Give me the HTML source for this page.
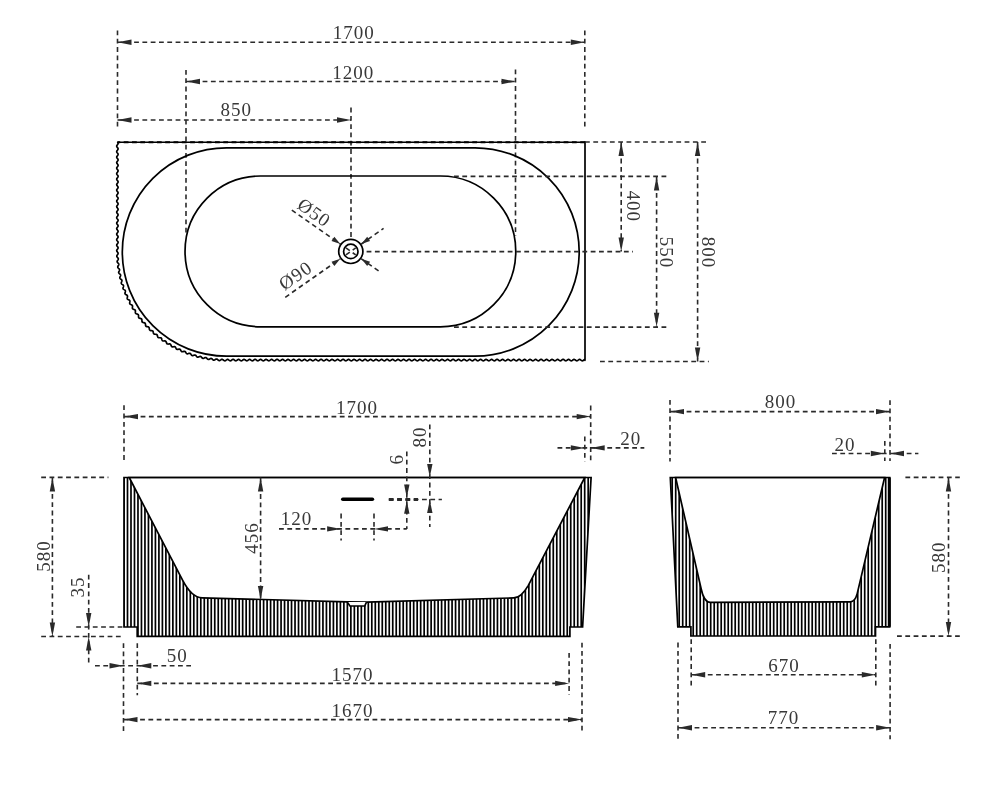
<!DOCTYPE html>
<html><head><meta charset="utf-8"><style>
html,body{margin:0;padding:0;background:#fff;overflow:hidden;}
svg{display:block;will-change:transform;}
text{font-family:"Liberation Serif", serif;fill:#383838;font-size:19px;letter-spacing:1.0px;}

</style></head><body>
<svg width="1000" height="786" viewBox="0 0 1000 786">
<rect width="1000" height="786" fill="#fff"/>
<line x1="117.5" y1="30.5" x2="117.5" y2="128.7" stroke="#2a2a2a" stroke-width="1.6" stroke-dasharray="4.8 3.5" stroke-dashoffset="0"/>
<line x1="584.8" y1="30.5" x2="584.8" y2="126.5" stroke="#2a2a2a" stroke-width="1.6" stroke-dasharray="4.8 3.5" stroke-dashoffset="0"/>
<line x1="186" y1="70" x2="186" y2="236" stroke="#2a2a2a" stroke-width="1.6" stroke-dasharray="4.8 3.5" stroke-dashoffset="0"/>
<line x1="515.5" y1="69.5" x2="515.5" y2="236" stroke="#2a2a2a" stroke-width="1.6" stroke-dasharray="4.8 3.5" stroke-dashoffset="0"/>
<line x1="351" y1="107.6" x2="351" y2="237" stroke="#2a2a2a" stroke-width="1.6" stroke-dasharray="4.8 3.5" stroke-dashoffset="0"/>
<line x1="117.5" y1="42.2" x2="584.8" y2="42.2" stroke="#2a2a2a" stroke-width="1.6" stroke-dasharray="4.8 3.5" stroke-dashoffset="0"/>
<path d="M117.5 42.2 L131.5 39.5 L131.5 44.9 Z" fill="#2a2a2a"/>
<path d="M584.8 42.2 L570.8 44.9 L570.8 39.5 Z" fill="#2a2a2a"/>
<line x1="186" y1="81.5" x2="515.5" y2="81.5" stroke="#2a2a2a" stroke-width="1.6" stroke-dasharray="4.8 3.5" stroke-dashoffset="0"/>
<path d="M186 81.5 L200 78.8 L200 84.2 Z" fill="#2a2a2a"/>
<path d="M515.5 81.5 L501.5 84.2 L501.5 78.8 Z" fill="#2a2a2a"/>
<line x1="117.5" y1="120" x2="351" y2="120" stroke="#2a2a2a" stroke-width="1.6" stroke-dasharray="4.8 3.5" stroke-dashoffset="0"/>
<path d="M117.5 120 L131.5 117.3 L131.5 122.7 Z" fill="#2a2a2a"/>
<path d="M351 120 L337 122.7 L337 117.3 Z" fill="#2a2a2a"/>
<text class="t" x="0" y="0" dy="6.4" transform="translate(353.75 32.15)" text-anchor="middle">1700</text>
<text class="t" x="0" y="0" dy="6.4" transform="translate(353.25 72.5)" text-anchor="middle">1200</text>
<text class="t" x="0" y="0" dy="6.4" transform="translate(236.2 109.5)" text-anchor="middle">850</text>
<path d="M117.4 142 L117.71 142.4 L117.95 142.8 L118.09 143.2 L118.08 143.6 L117.93 144 L117.67 144.4 L117.36 144.8 L117.06 145.2 L116.82 145.6 L116.71 146 L116.73 146.4 L116.9 146.8 L117.16 147.2 L117.48 147.6 L117.78 148 L118 148.4 L118.1 148.8 L118.05 149.2 L117.87 149.6 L117.6 150 L117.28 150.4 L116.99 150.8 L116.78 151.2 L116.7 151.6 L116.76 152 L116.96 152.4 L117.24 152.8 L117.56 153.2 L117.84 153.6 L118.04 154 L118.1 154.4 L118.02 154.8 L117.81 155.2 L117.52 155.6 L117.2 156 L116.93 156.4 L116.75 156.8 L116.7 157.2 L116.8 157.6 L117.02 158 L117.32 158.4 L117.64 158.8 L117.9 159.2 L118.07 159.6 L118.09 160 L117.98 160.4 L117.74 160.8 L117.44 161.2 L117.13 161.6 L116.87 162 L116.72 162.4 L116.71 162.8 L116.85 163.2 L117.09 163.6 L117.4 164 L117.71 164.4 L117.95 164.8 L118.09 165.2 L118.08 165.6 L117.93 166 L117.67 166.4 L117.36 166.8 L117.06 167.2 L116.82 167.6 L116.71 168 L116.73 168.4 L116.9 168.8 L117.16 169.2 L117.48 169.6 L117.78 170 L118 170.4 L118.1 170.8 L118.05 171.2 L117.87 171.6 L117.6 172 L117.28 172.4 L116.99 172.8 L116.78 173.2 L116.7 173.6 L116.76 174 L116.96 174.4 L117.24 174.8 L117.56 175.2 L117.84 175.6 L118.04 176 L118.1 176.4 L118.02 176.8 L117.81 177.2 L117.52 177.6 L117.2 178 L116.93 178.4 L116.75 178.8 L116.7 179.2 L116.8 179.6 L117.02 180 L117.32 180.4 L117.64 180.8 L117.9 181.2 L118.07 181.6 L118.09 182 L117.98 182.4 L117.74 182.8 L117.44 183.2 L117.13 183.6 L116.87 184 L116.72 184.4 L116.71 184.8 L116.85 185.2 L117.09 185.6 L117.4 186 L117.71 186.4 L117.95 186.8 L118.09 187.2 L118.08 187.6 L117.93 188 L117.67 188.4 L117.36 188.8 L117.06 189.2 L116.82 189.6 L116.71 190 L116.73 190.4 L116.9 190.8 L117.16 191.2 L117.48 191.6 L117.78 192 L118 192.4 L118.1 192.8 L118.05 193.2 L117.87 193.6 L117.6 194 L117.28 194.4 L116.99 194.8 L116.78 195.2 L116.7 195.6 L116.76 196 L116.96 196.4 L117.24 196.8 L117.56 197.2 L117.84 197.6 L118.04 198 L118.1 198.4 L118.02 198.8 L117.81 199.2 L117.52 199.6 L117.2 200 L116.93 200.4 L116.75 200.8 L116.7 201.2 L116.8 201.6 L117.02 202 L117.32 202.4 L117.64 202.8 L117.9 203.2 L118.07 203.6 L118.09 204 L117.98 204.4 L117.74 204.8 L117.44 205.2 L117.13 205.6 L116.87 206 L116.72 206.4 L116.71 206.8 L116.85 207.2 L117.09 207.6 L117.4 208 L117.71 208.4 L117.95 208.8 L118.09 209.2 L118.08 209.6 L117.93 210 L117.67 210.4 L117.36 210.8 L117.06 211.2 L116.82 211.6 L116.71 212 L116.73 212.4 L116.9 212.8 L117.16 213.2 L117.48 213.6 L117.78 214 L118 214.4 L118.1 214.8 L118.05 215.2 L117.87 215.6 L117.6 216 L117.28 216.4 L116.99 216.8 L116.78 217.2 L116.7 217.6 L116.76 218 L116.96 218.4 L117.24 218.8 L117.56 219.2 L117.84 219.6 L118.04 220 L118.1 220.4 L118.02 220.8 L117.81 221.2 L117.52 221.6 L117.2 222 L116.93 222.4 L116.75 222.8 L116.7 223.2 L116.8 223.6 L117.02 224 L117.32 224.4 L117.64 224.8 L117.9 225.2 L118.07 225.6 L118.09 226 L117.98 226.4 L117.74 226.8 L117.44 227.2 L117.13 227.6 L116.87 228 L116.72 228.4 L116.71 228.8 L116.85 229.2 L117.09 229.6 L117.4 230 L117.71 230.4 L117.95 230.8 L118.09 231.2 L118.08 231.6 L117.93 232 L117.67 232.4 L117.36 232.8 L117.06 233.2 L116.82 233.6 L116.71 234 L116.73 234.4 L116.9 234.8 L117.16 235.2 L117.48 235.6 L117.78 236 L118 236.4 L118.1 236.8 L118.05 237.2 L117.87 237.6 L117.6 238 L117.28 238.4 L116.99 238.8 L116.78 239.2 L116.7 239.6 L116.76 240 L116.96 240.4 L117.24 240.8 L117.56 241.2 L117.84 241.6 L118.04 242 L118.1 242.4 L118.02 242.8 L117.81 243.2 L117.52 243.6 L117.2 244 L116.93 244.4 L116.75 244.8 L116.7 245.2 L116.8 245.6 L117.02 246 L117.32 246.4 L117.64 246.8 L117.9 247.2 L118.07 247.6 L118.09 248 L117.98 248.4 L117.74 248.8 L117.44 249.2 L117.13 249.6 L116.87 250 L116.72 250.4 L116.71 250.8 L116.85 251.2 L117.09 251.6 L117.4 252 L117.71 252.4 L117.96 252.8 L118.09 253.19 L118.09 253.59 L117.95 253.99 L117.7 254.39 L117.4 254.8 L117.1 255.21 L116.88 255.62 L116.78 256.02 L116.82 256.43 L117.01 256.82 L117.29 257.21 L117.62 257.59 L117.94 257.98 L118.19 258.36 L118.31 258.75 L118.29 259.15 L118.14 259.56 L117.89 259.98 L117.61 260.4 L117.35 260.82 L117.17 261.24 L117.13 261.65 L117.23 262.04 L117.46 262.43 L117.78 262.8 L118.14 263.16 L118.46 263.53 L118.7 263.9 L118.81 264.29 L118.77 264.7 L118.61 265.12 L118.37 265.55 L118.11 265.99 L117.89 266.42 L117.77 266.84 L117.78 267.25 L117.93 267.63 L118.21 268 L118.56 268.35 L118.94 268.7 L119.26 269.05 L119.49 269.41 L119.58 269.8 L119.53 270.21 L119.37 270.65 L119.14 271.09 L118.9 271.54 L118.72 271.98 L118.65 272.41 L118.72 272.8 L118.93 273.17 L119.25 273.52 L119.63 273.85 L120.01 274.18 L120.34 274.52 L120.55 274.88 L120.63 275.27 L120.57 275.69 L120.41 276.13 L120.19 276.59 L119.99 277.05 L119.86 277.5 L119.84 277.92 L119.96 278.3 L120.22 278.65 L120.58 278.97 L120.98 279.28 L121.37 279.59 L121.69 279.92 L121.89 280.28 L121.95 280.67 L121.88 281.1 L121.73 281.56 L121.53 282.03 L121.36 282.5 L121.28 282.94 L121.32 283.35 L121.49 283.72 L121.8 284.05 L122.19 284.35 L122.61 284.63 L123 284.93 L123.31 285.25 L123.49 285.6 L123.54 286.01 L123.47 286.45 L123.32 286.92 L123.15 287.4 L123.02 287.87 L122.99 288.31 L123.08 288.71 L123.31 289.05 L123.66 289.35 L124.07 289.63 L124.51 289.89 L124.9 290.17 L125.19 290.48 L125.36 290.84 L125.4 291.26 L125.33 291.71 L125.19 292.19 L125.05 292.68 L124.97 293.15 L124.98 293.58 L125.13 293.96 L125.41 294.27 L125.79 294.55 L126.23 294.8 L126.67 295.04 L127.06 295.31 L127.34 295.62 L127.49 295.98 L127.52 296.41 L127.45 296.87 L127.34 297.37 L127.23 297.86 L127.19 298.32 L127.26 298.74 L127.46 299.09 L127.78 299.38 L128.19 299.62 L128.65 299.84 L129.1 300.07 L129.47 300.32 L129.74 300.63 L129.88 301.01 L129.9 301.45 L129.84 301.93 L129.75 302.43 L129.68 302.92 L129.68 303.37 L129.8 303.76 L130.05 304.09 L130.41 304.35 L130.86 304.56 L131.33 304.75 L131.77 304.96 L132.14 305.21 L132.39 305.53 L132.52 305.91 L132.54 306.36 L132.49 306.85 L132.42 307.36 L132.39 307.84 L132.44 308.28 L132.61 308.65 L132.91 308.94 L133.31 309.17 L133.77 309.35 L134.25 309.52 L134.69 309.71 L135.04 309.96 L135.28 310.28 L135.4 310.68 L135.42 311.14 L135.39 311.64 L135.35 312.15 L135.36 312.62 L135.46 313.04 L135.68 313.38 L136.02 313.63 L136.45 313.82 L136.93 313.98 L137.41 314.12 L137.84 314.31 L138.18 314.56 L138.41 314.88 L138.52 315.29 L138.55 315.77 L138.53 316.27 L138.53 316.78 L138.58 317.24 L138.73 317.63 L139 317.93 L139.37 318.15 L139.83 318.31 L140.32 318.43 L140.8 318.56 L141.22 318.74 L141.55 318.99 L141.76 319.32 L141.87 319.75 L141.91 320.23 L141.92 320.74 L141.95 321.23 L142.04 321.68 L142.24 322.04 L142.55 322.3 L142.96 322.48 L143.43 322.6 L143.93 322.7 L144.41 322.81 L144.82 322.99 L145.13 323.24 L145.33 323.59 L145.44 324.03 L145.49 324.52 L145.53 325.03 L145.6 325.51 L145.74 325.93 L145.98 326.25 L146.33 326.48 L146.76 326.62 L147.26 326.7 L147.76 326.77 L148.23 326.88 L148.62 327.05 L148.92 327.31 L149.12 327.68 L149.23 328.12 L149.3 328.62 L149.37 329.12 L149.47 329.59 L149.66 329.98 L149.94 330.26 L150.32 330.45 L150.78 330.55 L151.28 330.6 L151.79 330.65 L152.25 330.74 L152.63 330.91 L152.91 331.19 L153.11 331.57 L153.23 332.02 L153.32 332.52 L153.41 333.02 L153.56 333.46 L153.79 333.81 L154.11 334.05 L154.52 334.19 L155 334.25 L155.5 334.27 L156 334.3 L156.45 334.39 L156.82 334.57 L157.09 334.86 L157.29 335.25 L157.42 335.72 L157.53 336.21 L157.66 336.69 L157.85 337.11 L158.11 337.42 L158.47 337.62 L158.91 337.71 L159.4 337.73 L159.91 337.73 L160.4 337.74 L160.83 337.83 L161.19 338.02 L161.46 338.32 L161.65 338.72 L161.8 339.19 L161.94 339.68 L162.1 340.14 L162.33 340.52 L162.63 340.79 L163.01 340.94 L163.47 340.99 L163.97 340.98 L164.48 340.94 L164.96 340.95 L165.38 341.04 L165.72 341.24 L165.99 341.55 L166.19 341.97 L166.36 342.44 L166.52 342.92 L166.72 343.35 L166.98 343.7 L167.32 343.92 L167.73 344.02 L168.2 344.03 L168.7 343.98 L169.2 343.92 L169.67 343.92 L170.08 344.01 L170.42 344.22 L170.68 344.56 L170.89 344.98 L171.08 345.45 L171.28 345.91 L171.51 346.32 L171.8 346.62 L172.16 346.79 L172.6 346.84 L173.08 346.81 L173.58 346.72 L174.07 346.65 L174.53 346.65 L174.92 346.75 L175.25 346.98 L175.52 347.32 L175.75 347.75 L175.96 348.21 L176.18 348.66 L176.45 349.02 L176.77 349.28 L177.16 349.4 L177.6 349.4 L178.09 349.32 L178.59 349.21 L179.07 349.13 L179.51 349.13 L179.9 349.24 L180.22 349.48 L180.5 349.84 L180.74 350.27 L180.97 350.72 L181.23 351.14 L181.52 351.46 L181.87 351.67 L182.28 351.74 L182.74 351.69 L183.22 351.58 L183.71 351.44 L184.18 351.35 L184.61 351.35 L184.99 351.48 L185.32 351.73 L185.6 352.1 L185.86 352.53 L186.12 352.96 L186.4 353.35 L186.72 353.63 L187.1 353.78 L187.52 353.8 L187.98 353.71 L188.46 353.56 L188.94 353.4 L189.4 353.31 L189.82 353.31 L190.19 353.45 L190.52 353.72 L190.81 354.1 L191.09 354.52 L191.38 354.94 L191.68 355.28 L192.03 355.52 L192.42 355.61 L192.86 355.58 L193.32 355.45 L193.79 355.26 L194.26 355.09 L194.71 355 L195.12 355.02 L195.49 355.17 L195.82 355.45 L196.13 355.83 L196.43 356.24 L196.73 356.63 L197.07 356.94 L197.44 357.12 L197.84 357.16 L198.28 357.07 L198.74 356.9 L199.2 356.69 L199.66 356.51 L200.09 356.42 L200.49 356.45 L200.86 356.62 L201.2 356.91 L201.53 357.29 L201.85 357.68 L202.18 358.04 L202.53 358.3 L202.92 358.43 L203.33 358.41 L203.77 358.28 L204.22 358.07 L204.67 357.84 L205.12 357.65 L205.54 357.56 L205.93 357.61 L206.3 357.79 L206.65 358.1 L207 358.46 L207.34 358.84 L207.69 359.16 L208.06 359.37 L208.46 359.44 L208.88 359.38 L209.31 359.19 L209.75 358.95 L210.19 358.7 L210.62 358.51 L211.03 358.44 L211.43 358.5 L211.8 358.7 L212.16 359 L212.52 359.36 L212.89 359.71 L213.26 359.99 L213.64 360.15 L214.05 360.16 L214.46 360.04 L214.89 359.81 L215.32 359.54 L215.74 359.28 L216.16 359.09 L216.57 359.03 L216.96 359.11 L217.34 359.32 L217.72 359.62 L218.09 359.97 L218.48 360.28 L218.86 360.52 L219.26 360.62 L219.67 360.58 L220.08 360.41 L220.49 360.14 L220.91 359.84 L221.32 359.58 L221.72 359.4 L222.12 359.35 L222.51 359.44 L222.91 359.66 L223.3 359.96 L223.69 360.28 L224.09 360.56 L224.49 360.75 L224.89 360.8 L225.3 360.7 L225.7 360.48 L226.1 360.18 L226.5 359.86 L226.9 359.6 L227.3 359.43 L227.7 359.41 L228.1 359.52 L228.5 359.76 L228.9 360.06 L229.3 360.37 L229.7 360.63 L230.1 360.78 L230.5 360.79 L230.9 360.65 L231.3 360.41 L231.7 360.1 L232.1 359.79 L232.5 359.55 L232.9 359.41 L233.3 359.42 L233.7 359.57 L234.1 359.83 L234.5 360.14 L234.9 360.44 L235.3 360.68 L235.7 360.79 L236.1 360.77 L236.5 360.6 L236.9 360.34 L237.3 360.02 L237.7 359.72 L238.1 359.5 L238.5 359.4 L238.9 359.45 L239.3 359.63 L239.7 359.9 L240.1 360.22 L240.5 360.51 L240.9 360.72 L241.3 360.8 L241.7 360.74 L242.1 360.54 L242.5 360.26 L242.9 359.94 L243.3 359.66 L243.7 359.46 L244.1 359.4 L244.5 359.48 L244.9 359.69 L245.3 359.98 L245.7 360.3 L246.1 360.57 L246.5 360.75 L246.9 360.8 L247.3 360.7 L247.7 360.48 L248.1 360.18 L248.5 359.86 L248.9 359.6 L249.3 359.43 L249.7 359.41 L250.1 359.52 L250.5 359.76 L250.9 360.06 L251.3 360.37 L251.7 360.63 L252.1 360.78 L252.5 360.79 L252.9 360.65 L253.3 360.41 L253.7 360.1 L254.1 359.79 L254.5 359.55 L254.9 359.41 L255.3 359.42 L255.7 359.57 L256.1 359.83 L256.5 360.14 L256.9 360.44 L257.3 360.68 L257.7 360.79 L258.1 360.77 L258.5 360.6 L258.9 360.34 L259.3 360.02 L259.7 359.72 L260.1 359.5 L260.5 359.4 L260.9 359.45 L261.3 359.63 L261.7 359.9 L262.1 360.22 L262.5 360.51 L262.9 360.72 L263.3 360.8 L263.7 360.74 L264.1 360.54 L264.5 360.26 L264.9 359.94 L265.3 359.66 L265.7 359.46 L266.1 359.4 L266.5 359.48 L266.9 359.69 L267.3 359.98 L267.7 360.3 L268.1 360.57 L268.5 360.75 L268.9 360.8 L269.3 360.7 L269.7 360.48 L270.1 360.18 L270.5 359.86 L270.9 359.6 L271.3 359.43 L271.7 359.41 L272.1 359.52 L272.5 359.76 L272.9 360.06 L273.3 360.37 L273.7 360.63 L274.1 360.78 L274.5 360.79 L274.9 360.65 L275.3 360.41 L275.7 360.1 L276.1 359.79 L276.5 359.55 L276.9 359.41 L277.3 359.42 L277.7 359.57 L278.1 359.83 L278.5 360.14 L278.9 360.44 L279.3 360.68 L279.7 360.79 L280.1 360.77 L280.5 360.6 L280.9 360.34 L281.3 360.02 L281.7 359.72 L282.1 359.5 L282.5 359.4 L282.9 359.45 L283.3 359.63 L283.7 359.9 L284.1 360.22 L284.5 360.51 L284.9 360.72 L285.3 360.8 L285.7 360.74 L286.1 360.54 L286.5 360.26 L286.9 359.94 L287.3 359.66 L287.7 359.46 L288.1 359.4 L288.5 359.48 L288.9 359.69 L289.3 359.98 L289.7 360.3 L290.1 360.57 L290.5 360.75 L290.9 360.8 L291.3 360.7 L291.7 360.48 L292.1 360.18 L292.5 359.86 L292.9 359.6 L293.3 359.43 L293.7 359.41 L294.1 359.52 L294.5 359.76 L294.9 360.06 L295.3 360.37 L295.7 360.63 L296.1 360.78 L296.5 360.79 L296.9 360.65 L297.3 360.41 L297.7 360.1 L298.1 359.79 L298.5 359.55 L298.9 359.41 L299.3 359.42 L299.7 359.57 L300.1 359.83 L300.5 360.14 L300.9 360.44 L301.3 360.68 L301.7 360.79 L302.1 360.77 L302.5 360.6 L302.9 360.34 L303.3 360.02 L303.7 359.72 L304.1 359.5 L304.5 359.4 L304.9 359.45 L305.3 359.63 L305.7 359.9 L306.1 360.22 L306.5 360.51 L306.9 360.72 L307.3 360.8 L307.7 360.74 L308.1 360.54 L308.5 360.26 L308.9 359.94 L309.3 359.66 L309.7 359.46 L310.1 359.4 L310.5 359.48 L310.9 359.69 L311.3 359.98 L311.7 360.3 L312.1 360.57 L312.5 360.75 L312.9 360.8 L313.3 360.7 L313.7 360.48 L314.1 360.18 L314.5 359.86 L314.9 359.6 L315.3 359.43 L315.7 359.41 L316.1 359.52 L316.5 359.76 L316.9 360.06 L317.3 360.37 L317.7 360.63 L318.1 360.78 L318.5 360.79 L318.9 360.65 L319.3 360.41 L319.7 360.1 L320.1 359.79 L320.5 359.55 L320.9 359.41 L321.3 359.42 L321.7 359.57 L322.1 359.83 L322.5 360.14 L322.9 360.44 L323.3 360.68 L323.7 360.79 L324.1 360.77 L324.5 360.6 L324.9 360.34 L325.3 360.02 L325.7 359.72 L326.1 359.5 L326.5 359.4 L326.9 359.45 L327.3 359.63 L327.7 359.9 L328.1 360.22 L328.5 360.51 L328.9 360.72 L329.3 360.8 L329.7 360.74 L330.1 360.54 L330.5 360.26 L330.9 359.94 L331.3 359.66 L331.7 359.46 L332.1 359.4 L332.5 359.48 L332.9 359.69 L333.3 359.98 L333.7 360.3 L334.1 360.57 L334.5 360.75 L334.9 360.8 L335.3 360.7 L335.7 360.48 L336.1 360.18 L336.5 359.86 L336.9 359.6 L337.3 359.43 L337.7 359.41 L338.1 359.52 L338.5 359.76 L338.9 360.06 L339.3 360.37 L339.7 360.63 L340.1 360.78 L340.5 360.79 L340.9 360.65 L341.3 360.41 L341.7 360.1 L342.1 359.79 L342.5 359.55 L342.9 359.41 L343.3 359.42 L343.7 359.57 L344.1 359.83 L344.5 360.14 L344.9 360.44 L345.3 360.68 L345.7 360.79 L346.1 360.77 L346.5 360.6 L346.9 360.34 L347.3 360.02 L347.7 359.72 L348.1 359.5 L348.5 359.4 L348.9 359.45 L349.3 359.63 L349.7 359.9 L350.1 360.22 L350.5 360.51 L350.9 360.72 L351.3 360.8 L351.7 360.74 L352.1 360.54 L352.5 360.26 L352.9 359.94 L353.3 359.66 L353.7 359.46 L354.1 359.4 L354.5 359.48 L354.9 359.69 L355.3 359.98 L355.7 360.3 L356.1 360.57 L356.5 360.75 L356.9 360.8 L357.3 360.7 L357.7 360.48 L358.1 360.18 L358.5 359.86 L358.9 359.6 L359.3 359.43 L359.7 359.41 L360.1 359.52 L360.5 359.76 L360.9 360.06 L361.3 360.37 L361.7 360.63 L362.1 360.78 L362.5 360.79 L362.9 360.65 L363.3 360.41 L363.7 360.1 L364.1 359.79 L364.5 359.55 L364.9 359.41 L365.3 359.42 L365.7 359.57 L366.1 359.83 L366.5 360.14 L366.9 360.44 L367.3 360.68 L367.7 360.79 L368.1 360.77 L368.5 360.6 L368.9 360.34 L369.3 360.02 L369.7 359.72 L370.1 359.5 L370.5 359.4 L370.9 359.45 L371.3 359.63 L371.7 359.9 L372.1 360.22 L372.5 360.51 L372.9 360.72 L373.3 360.8 L373.7 360.74 L374.1 360.54 L374.5 360.26 L374.9 359.94 L375.3 359.66 L375.7 359.46 L376.1 359.4 L376.5 359.48 L376.9 359.69 L377.3 359.98 L377.7 360.3 L378.1 360.57 L378.5 360.75 L378.9 360.8 L379.3 360.7 L379.7 360.48 L380.1 360.18 L380.5 359.86 L380.9 359.6 L381.3 359.43 L381.7 359.41 L382.1 359.52 L382.5 359.76 L382.9 360.06 L383.3 360.37 L383.7 360.63 L384.1 360.78 L384.5 360.79 L384.9 360.65 L385.3 360.41 L385.7 360.1 L386.1 359.79 L386.5 359.55 L386.9 359.41 L387.3 359.42 L387.7 359.57 L388.1 359.83 L388.5 360.14 L388.9 360.44 L389.3 360.68 L389.7 360.79 L390.1 360.77 L390.5 360.6 L390.9 360.34 L391.3 360.02 L391.7 359.72 L392.1 359.5 L392.5 359.4 L392.9 359.45 L393.3 359.63 L393.7 359.9 L394.1 360.22 L394.5 360.51 L394.9 360.72 L395.3 360.8 L395.7 360.74 L396.1 360.54 L396.5 360.26 L396.9 359.94 L397.3 359.66 L397.7 359.46 L398.1 359.4 L398.5 359.48 L398.9 359.69 L399.3 359.98 L399.7 360.3 L400.1 360.57 L400.5 360.75 L400.9 360.8 L401.3 360.7 L401.7 360.48 L402.1 360.18 L402.5 359.86 L402.9 359.6 L403.3 359.43 L403.7 359.41 L404.1 359.52 L404.5 359.76 L404.9 360.06 L405.3 360.37 L405.7 360.63 L406.1 360.78 L406.5 360.79 L406.9 360.65 L407.3 360.41 L407.7 360.1 L408.1 359.79 L408.5 359.55 L408.9 359.41 L409.3 359.42 L409.7 359.57 L410.1 359.83 L410.5 360.14 L410.9 360.44 L411.3 360.68 L411.7 360.79 L412.1 360.77 L412.5 360.6 L412.9 360.34 L413.3 360.02 L413.7 359.72 L414.1 359.5 L414.5 359.4 L414.9 359.45 L415.3 359.63 L415.7 359.9 L416.1 360.22 L416.5 360.51 L416.9 360.72 L417.3 360.8 L417.7 360.74 L418.1 360.54 L418.5 360.26 L418.9 359.94 L419.3 359.66 L419.7 359.46 L420.1 359.4 L420.5 359.48 L420.9 359.69 L421.3 359.98 L421.7 360.3 L422.1 360.57 L422.5 360.75 L422.9 360.8 L423.3 360.7 L423.7 360.48 L424.1 360.18 L424.5 359.86 L424.9 359.6 L425.3 359.43 L425.7 359.41 L426.1 359.52 L426.5 359.76 L426.9 360.06 L427.3 360.37 L427.7 360.63 L428.1 360.78 L428.5 360.79 L428.9 360.65 L429.3 360.41 L429.7 360.1 L430.1 359.79 L430.5 359.55 L430.9 359.41 L431.3 359.42 L431.7 359.57 L432.1 359.83 L432.5 360.14 L432.9 360.44 L433.3 360.68 L433.7 360.79 L434.1 360.77 L434.5 360.6 L434.9 360.34 L435.3 360.02 L435.7 359.72 L436.1 359.5 L436.5 359.4 L436.9 359.45 L437.3 359.63 L437.7 359.9 L438.1 360.22 L438.5 360.51 L438.9 360.72 L439.3 360.8 L439.7 360.74 L440.1 360.54 L440.5 360.26 L440.9 359.94 L441.3 359.66 L441.7 359.46 L442.1 359.4 L442.5 359.48 L442.9 359.69 L443.3 359.98 L443.7 360.3 L444.1 360.57 L444.5 360.75 L444.9 360.8 L445.3 360.7 L445.7 360.48 L446.1 360.18 L446.5 359.86 L446.9 359.6 L447.3 359.43 L447.7 359.41 L448.1 359.52 L448.5 359.76 L448.9 360.06 L449.3 360.37 L449.7 360.63 L450.1 360.78 L450.5 360.79 L450.9 360.65 L451.3 360.41 L451.7 360.1 L452.1 359.79 L452.5 359.55 L452.9 359.41 L453.3 359.42 L453.7 359.57 L454.1 359.83 L454.5 360.14 L454.9 360.44 L455.3 360.68 L455.7 360.79 L456.1 360.77 L456.5 360.6 L456.9 360.34 L457.3 360.02 L457.7 359.72 L458.1 359.5 L458.5 359.4 L458.9 359.45 L459.3 359.63 L459.7 359.9 L460.1 360.22 L460.5 360.51 L460.9 360.72 L461.3 360.8 L461.7 360.74 L462.1 360.54 L462.5 360.26 L462.9 359.94 L463.3 359.66 L463.7 359.46 L464.1 359.4 L464.5 359.48 L464.9 359.69 L465.3 359.98 L465.7 360.3 L466.1 360.57 L466.5 360.75 L466.9 360.8 L467.3 360.7 L467.7 360.48 L468.1 360.18 L468.5 359.86 L468.9 359.6 L469.3 359.43 L469.7 359.41 L470.1 359.52 L470.5 359.76 L470.9 360.06 L471.3 360.37 L471.7 360.63 L472.1 360.78 L472.5 360.79 L472.9 360.65 L473.3 360.41 L473.7 360.1 L474.1 359.79 L474.5 359.55 L474.9 359.41 L475.3 359.42 L475.7 359.57 L476.1 359.83 L476.5 360.14 L476.9 360.44 L477.3 360.68 L477.7 360.79 L478.1 360.77 L478.5 360.6 L478.9 360.34 L479.3 360.02 L479.7 359.72 L480.1 359.5 L480.5 359.4 L480.9 359.45 L481.3 359.63 L481.7 359.9 L482.1 360.22 L482.5 360.51 L482.9 360.72 L483.3 360.8 L483.7 360.74 L484.1 360.54 L484.5 360.26 L484.9 359.94 L485.3 359.66 L485.7 359.46 L486.1 359.4 L486.5 359.48 L486.9 359.69 L487.3 359.98 L487.7 360.3 L488.1 360.57 L488.5 360.75 L488.9 360.8 L489.3 360.7 L489.7 360.48 L490.1 360.18 L490.5 359.86 L490.9 359.6 L491.3 359.43 L491.7 359.41 L492.1 359.52 L492.5 359.76 L492.9 360.06 L493.3 360.37 L493.7 360.63 L494.1 360.78 L494.5 360.79 L494.9 360.65 L495.3 360.41 L495.7 360.1 L496.1 359.79 L496.5 359.55 L496.9 359.41 L497.3 359.42 L497.7 359.57 L498.1 359.83 L498.5 360.14 L498.9 360.44 L499.3 360.68 L499.7 360.79 L500.1 360.77 L500.5 360.6 L500.9 360.34 L501.3 360.02 L501.7 359.72 L502.1 359.5 L502.5 359.4 L502.9 359.45 L503.3 359.63 L503.7 359.9 L504.1 360.22 L504.5 360.51 L504.9 360.72 L505.3 360.8 L505.7 360.74 L506.1 360.54 L506.5 360.26 L506.9 359.94 L507.3 359.66 L507.7 359.46 L508.1 359.4 L508.5 359.48 L508.9 359.69 L509.3 359.98 L509.7 360.3 L510.1 360.57 L510.5 360.75 L510.9 360.8 L511.3 360.7 L511.7 360.48 L512.1 360.18 L512.5 359.86 L512.9 359.6 L513.3 359.43 L513.7 359.41 L514.1 359.52 L514.5 359.76 L514.9 360.06 L515.3 360.37 L515.7 360.63 L516.1 360.78 L516.5 360.79 L516.9 360.65 L517.3 360.41 L517.7 360.1 L518.1 359.79 L518.5 359.55 L518.9 359.41 L519.3 359.42 L519.7 359.57 L520.1 359.83 L520.5 360.14 L520.9 360.44 L521.3 360.68 L521.7 360.79 L522.1 360.77 L522.5 360.6 L522.9 360.34 L523.3 360.02 L523.7 359.72 L524.1 359.5 L524.5 359.4 L524.9 359.45 L525.3 359.63 L525.7 359.9 L526.1 360.22 L526.5 360.51 L526.9 360.72 L527.3 360.8 L527.7 360.74 L528.1 360.54 L528.5 360.26 L528.9 359.94 L529.3 359.66 L529.7 359.46 L530.1 359.4 L530.5 359.48 L530.9 359.69 L531.3 359.98 L531.7 360.3 L532.1 360.57 L532.5 360.75 L532.9 360.8 L533.3 360.7 L533.7 360.48 L534.1 360.18 L534.5 359.86 L534.9 359.6 L535.3 359.43 L535.7 359.41 L536.1 359.52 L536.5 359.76 L536.9 360.06 L537.3 360.37 L537.7 360.63 L538.1 360.78 L538.5 360.79 L538.9 360.65 L539.3 360.41 L539.7 360.1 L540.1 359.79 L540.5 359.55 L540.9 359.41 L541.3 359.42 L541.7 359.57 L542.1 359.83 L542.5 360.14 L542.9 360.44 L543.3 360.68 L543.7 360.79 L544.1 360.77 L544.5 360.6 L544.9 360.34 L545.3 360.02 L545.7 359.72 L546.1 359.5 L546.5 359.4 L546.9 359.45 L547.3 359.63 L547.7 359.9 L548.1 360.22 L548.5 360.51 L548.9 360.72 L549.3 360.8 L549.7 360.74 L550.1 360.54 L550.5 360.26 L550.9 359.94 L551.3 359.66 L551.7 359.46 L552.1 359.4 L552.5 359.48 L552.9 359.69 L553.3 359.98 L553.7 360.3 L554.1 360.57 L554.5 360.75 L554.9 360.8 L555.3 360.7 L555.7 360.48 L556.1 360.18 L556.5 359.86 L556.9 359.6 L557.3 359.43 L557.7 359.41 L558.1 359.52 L558.5 359.76 L558.9 360.06 L559.3 360.37 L559.7 360.63 L560.1 360.78 L560.5 360.79 L560.9 360.65 L561.3 360.41 L561.7 360.1 L562.1 359.79 L562.5 359.55 L562.9 359.41 L563.3 359.42 L563.7 359.57 L564.1 359.83 L564.5 360.14 L564.9 360.44 L565.3 360.68 L565.7 360.79 L566.1 360.77 L566.5 360.6 L566.9 360.34 L567.3 360.02 L567.7 359.72 L568.1 359.5 L568.5 359.4 L568.9 359.45 L569.3 359.63 L569.7 359.9 L570.1 360.22 L570.5 360.51 L570.9 360.72 L571.3 360.8 L571.7 360.74 L572.1 360.54 L572.5 360.26 L572.9 359.94 L573.3 359.66 L573.7 359.46 L574.1 359.4 L574.5 359.48 L574.9 359.69 L575.3 359.98 L575.7 360.3 L576.1 360.57 L576.5 360.75 L576.9 360.8 L577.3 360.7 L577.7 360.48 L578.1 360.18 L578.5 359.86 L578.9 359.6 L579.3 359.43 L579.7 359.41 L580.1 359.52 L580.5 359.76 L580.9 360.06 L581.3 360.37 L581.7 360.63 L582.1 360.78 L582.5 360.79 L582.9 360.65 L583.3 360.41 L583.7 360.1 L584.1 359.79 L584.5 359.55 L584.9 359.41 L585 360.3 L585 141.4" fill="none" stroke="#000" stroke-width="1.7" stroke-linejoin="round"/>
<line x1="117.4" y1="142.2" x2="585.8" y2="142.2" stroke="#000" stroke-width="1.6"/>
<line x1="117.4" y1="142.2" x2="585.8" y2="142.2" stroke="#000" stroke-width="2" stroke-dasharray="4.8 3.5" stroke-dashoffset="2"/>
<path d="M226.5 147.8 L475 147.8 A104.2 104.2 0 0 1 475 356.2 L226.5 356.2 A104.2 104.2 0 0 1 226.5 147.8 Z" fill="none" stroke="#000" stroke-width="1.7"/>
<path d="M260.4 176 L440.4 176 A75.4 75.4 0 0 1 440.4 326.8 L260.4 326.8 A75.4 75.4 0 0 1 260.4 176 Z" fill="none" stroke="#000" stroke-width="1.7"/>
<line x1="454" y1="176.4" x2="669" y2="176.4" stroke="#2a2a2a" stroke-width="1.6" stroke-dasharray="4.8 3.5" stroke-dashoffset="0"/>
<line x1="454" y1="327.1" x2="669" y2="327.1" stroke="#2a2a2a" stroke-width="1.6" stroke-dasharray="4.8 3.5" stroke-dashoffset="0"/>
<line x1="366.6" y1="251.6" x2="633" y2="251.6" stroke="#2a2a2a" stroke-width="1.6" stroke-dasharray="4.8 3.5" stroke-dashoffset="0"/>
<line x1="585" y1="142" x2="708.8" y2="142" stroke="#2a2a2a" stroke-width="1.6" stroke-dasharray="4.8 3.5" stroke-dashoffset="0"/>
<line x1="600" y1="361.5" x2="708.8" y2="361.5" stroke="#2a2a2a" stroke-width="1.6" stroke-dasharray="4.8 3.5" stroke-dashoffset="0"/>
<line x1="621.2" y1="142" x2="621.2" y2="251.6" stroke="#2a2a2a" stroke-width="1.6" stroke-dasharray="4.8 3.5" stroke-dashoffset="0"/>
<path d="M621.2 142 L623.9 156 L618.5 156 Z" fill="#2a2a2a"/>
<path d="M621.2 251.6 L618.5 237.6 L623.9 237.6 Z" fill="#2a2a2a"/>
<line x1="656.6" y1="176.4" x2="656.6" y2="326.8" stroke="#2a2a2a" stroke-width="1.6" stroke-dasharray="4.8 3.5" stroke-dashoffset="0"/>
<path d="M656.6 176.4 L659.3 190.4 L653.9 190.4 Z" fill="#2a2a2a"/>
<path d="M656.6 326.8 L653.9 312.8 L659.3 312.8 Z" fill="#2a2a2a"/>
<line x1="697.6" y1="142" x2="697.6" y2="361.5" stroke="#2a2a2a" stroke-width="1.6" stroke-dasharray="4.8 3.5" stroke-dashoffset="0"/>
<path d="M697.6 142 L700.3 156 L694.9 156 Z" fill="#2a2a2a"/>
<path d="M697.6 361.5 L694.9 347.5 L700.3 347.5 Z" fill="#2a2a2a"/>
<text class="t" x="0" y="0" dy="6.4" transform="translate(633.66 206.2) rotate(90)" text-anchor="middle">400</text>
<text class="t" x="0" y="0" dy="6.4" transform="translate(666.86 252.56) rotate(90)" text-anchor="middle">550</text>
<text class="t" x="0" y="0" dy="6.4" transform="translate(707.92 252.56) rotate(90)" text-anchor="middle">800</text>
<circle cx="350.8" cy="251.4" r="12.1" fill="#fff" stroke="#000" stroke-width="1.7"/>
<circle cx="350.8" cy="251.4" r="7.2" fill="none" stroke="#000" stroke-width="1.7"/>
<line x1="291.82" y1="210.1" x2="340.56" y2="244.23" stroke="#2a2a2a" stroke-width="1.6" stroke-dasharray="4.8 3.5" stroke-dashoffset="0"/>
<line x1="361.04" y1="258.57" x2="378.65" y2="270.9" stroke="#2a2a2a" stroke-width="1.6" stroke-dasharray="4.8 3.5" stroke-dashoffset="0"/>
<line x1="345.89" y1="247.96" x2="355.71" y2="254.84" stroke="#2a2a2a" stroke-width="1.6" stroke-dasharray="4.8 3.5" stroke-dashoffset="0"/>
<path d="M340.31 244.06 L331.51 240.94 L334.38 236.85 Z" fill="#2a2a2a"/>
<path d="M361.29 258.74 L370.09 261.86 L367.22 265.95 Z" fill="#2a2a2a"/>
<line x1="285.27" y1="297.29" x2="340.56" y2="258.57" stroke="#2a2a2a" stroke-width="1.6" stroke-dasharray="4.8 3.5" stroke-dashoffset="0"/>
<line x1="361.04" y1="244.23" x2="383.57" y2="228.46" stroke="#2a2a2a" stroke-width="1.6" stroke-dasharray="4.8 3.5" stroke-dashoffset="0"/>
<line x1="345.89" y1="254.84" x2="355.71" y2="247.96" stroke="#2a2a2a" stroke-width="1.6" stroke-dasharray="4.8 3.5" stroke-dashoffset="0"/>
<path d="M340.31 258.74 L334.38 265.95 L331.51 261.86 Z" fill="#2a2a2a"/>
<path d="M361.29 244.06 L367.22 236.85 L370.09 240.94 Z" fill="#2a2a2a"/>
<text class="t" x="0" y="0" dy="6.4" transform="translate(314.24 212.58) rotate(35)" text-anchor="middle">Ø50</text>
<text class="t" x="0" y="0" dy="6.4" transform="translate(295.5 275.46) rotate(-35)" text-anchor="middle">Ø90</text>
<line x1="124" y1="405.3" x2="124" y2="461" stroke="#2a2a2a" stroke-width="1.6" stroke-dasharray="4.8 3.5" stroke-dashoffset="0"/>
<line x1="590.7" y1="405.6" x2="590.7" y2="461.6" stroke="#2a2a2a" stroke-width="1.6" stroke-dasharray="4.8 3.5" stroke-dashoffset="0"/>
<line x1="124" y1="416.6" x2="590.7" y2="416.6" stroke="#2a2a2a" stroke-width="1.6" stroke-dasharray="4.8 3.5" stroke-dashoffset="0"/>
<path d="M124 416.6 L138 413.9 L138 419.3 Z" fill="#2a2a2a"/>
<path d="M590.7 416.6 L576.7 419.3 L576.7 413.9 Z" fill="#2a2a2a"/>
<text class="t" x="0" y="0" dy="6.4" transform="translate(357 407.5)" text-anchor="middle">1700</text>
<line x1="584.8" y1="436.4" x2="584.8" y2="461.6" stroke="#2a2a2a" stroke-width="1.6" stroke-dasharray="4.8 3.5" stroke-dashoffset="0"/>
<line x1="557.5" y1="447.9" x2="644.3" y2="447.9" stroke="#2a2a2a" stroke-width="1.6" stroke-dasharray="4.8 3.5" stroke-dashoffset="0"/>
<path d="M584.8 447.9 L570.8 450.6 L570.8 445.2 Z" fill="#2a2a2a"/>
<path d="M590.7 447.9 L604.7 445.2 L604.7 450.6 Z" fill="#2a2a2a"/>
<text class="t" x="0" y="0" dy="6.4" transform="translate(630.81 438.58)" text-anchor="middle">20</text>
<defs><clipPath id="cf"><path d="M124 477.5 L591.1 477.5 L582.6 627 L569.9 627 L569.9 636.3 L137.2 636.3 L137.2 627 L124 627 Z M129.2 477.5 L182.7 580.4 Q191.8 597.8 202.2 597.8 L347.2 601.9 L366.5 602.1 L513.7 597.9 Q521 597.9 528.2 585.6 L584.8 477.5 Z" fill-rule="evenodd" clip-rule="evenodd"/></clipPath></defs>
<g clip-path="url(#cf)" fill="#000"><rect x="116.18" y="470" width="1.7" height="170"/><rect x="119.67" y="470" width="1.7" height="170"/><rect x="123.16" y="470" width="1.7" height="170"/><rect x="126.65" y="470" width="1.7" height="170"/><rect x="130.14" y="470" width="1.7" height="170"/><rect x="133.63" y="470" width="1.7" height="170"/><rect x="137.12" y="470" width="1.7" height="170"/><rect x="140.61" y="470" width="1.7" height="170"/><rect x="144.1" y="470" width="1.7" height="170"/><rect x="147.59" y="470" width="1.7" height="170"/><rect x="151.08" y="470" width="1.7" height="170"/><rect x="154.57" y="470" width="1.7" height="170"/><rect x="158.06" y="470" width="1.7" height="170"/><rect x="161.55" y="470" width="1.7" height="170"/><rect x="165.04" y="470" width="1.7" height="170"/><rect x="168.53" y="470" width="1.7" height="170"/><rect x="172.02" y="470" width="1.7" height="170"/><rect x="175.51" y="470" width="1.7" height="170"/><rect x="179" y="470" width="1.7" height="170"/><rect x="182.49" y="470" width="1.7" height="170"/><rect x="185.98" y="470" width="1.7" height="170"/><rect x="189.47" y="470" width="1.7" height="170"/><rect x="192.96" y="470" width="1.7" height="170"/><rect x="196.45" y="470" width="1.7" height="170"/><rect x="199.94" y="470" width="1.7" height="170"/><rect x="203.43" y="470" width="1.7" height="170"/><rect x="206.92" y="470" width="1.7" height="170"/><rect x="210.41" y="470" width="1.7" height="170"/><rect x="213.9" y="470" width="1.7" height="170"/><rect x="217.39" y="470" width="1.7" height="170"/><rect x="220.88" y="470" width="1.7" height="170"/><rect x="224.37" y="470" width="1.7" height="170"/><rect x="227.86" y="470" width="1.7" height="170"/><rect x="231.35" y="470" width="1.7" height="170"/><rect x="234.84" y="470" width="1.7" height="170"/><rect x="238.33" y="470" width="1.7" height="170"/><rect x="241.82" y="470" width="1.7" height="170"/><rect x="245.31" y="470" width="1.7" height="170"/><rect x="248.8" y="470" width="1.7" height="170"/><rect x="252.29" y="470" width="1.7" height="170"/><rect x="255.78" y="470" width="1.7" height="170"/><rect x="259.27" y="470" width="1.7" height="170"/><rect x="262.76" y="470" width="1.7" height="170"/><rect x="266.25" y="470" width="1.7" height="170"/><rect x="269.74" y="470" width="1.7" height="170"/><rect x="273.23" y="470" width="1.7" height="170"/><rect x="276.72" y="470" width="1.7" height="170"/><rect x="280.21" y="470" width="1.7" height="170"/><rect x="283.7" y="470" width="1.7" height="170"/><rect x="287.19" y="470" width="1.7" height="170"/><rect x="290.68" y="470" width="1.7" height="170"/><rect x="294.17" y="470" width="1.7" height="170"/><rect x="297.66" y="470" width="1.7" height="170"/><rect x="301.15" y="470" width="1.7" height="170"/><rect x="304.64" y="470" width="1.7" height="170"/><rect x="308.13" y="470" width="1.7" height="170"/><rect x="311.62" y="470" width="1.7" height="170"/><rect x="315.11" y="470" width="1.7" height="170"/><rect x="318.6" y="470" width="1.7" height="170"/><rect x="322.09" y="470" width="1.7" height="170"/><rect x="325.58" y="470" width="1.7" height="170"/><rect x="329.07" y="470" width="1.7" height="170"/><rect x="332.56" y="470" width="1.7" height="170"/><rect x="336.05" y="470" width="1.7" height="170"/><rect x="339.54" y="470" width="1.7" height="170"/><rect x="343.03" y="470" width="1.7" height="170"/><rect x="346.52" y="470" width="1.7" height="170"/><rect x="350.01" y="470" width="1.7" height="170"/><rect x="353.5" y="470" width="1.7" height="170"/><rect x="356.99" y="470" width="1.7" height="170"/><rect x="360.48" y="470" width="1.7" height="170"/><rect x="363.97" y="470" width="1.7" height="170"/><rect x="367.46" y="470" width="1.7" height="170"/><rect x="370.95" y="470" width="1.7" height="170"/><rect x="374.44" y="470" width="1.7" height="170"/><rect x="377.93" y="470" width="1.7" height="170"/><rect x="381.42" y="470" width="1.7" height="170"/><rect x="384.91" y="470" width="1.7" height="170"/><rect x="388.4" y="470" width="1.7" height="170"/><rect x="391.89" y="470" width="1.7" height="170"/><rect x="395.38" y="470" width="1.7" height="170"/><rect x="398.87" y="470" width="1.7" height="170"/><rect x="402.36" y="470" width="1.7" height="170"/><rect x="405.85" y="470" width="1.7" height="170"/><rect x="409.34" y="470" width="1.7" height="170"/><rect x="412.83" y="470" width="1.7" height="170"/><rect x="416.32" y="470" width="1.7" height="170"/><rect x="419.81" y="470" width="1.7" height="170"/><rect x="423.3" y="470" width="1.7" height="170"/><rect x="426.79" y="470" width="1.7" height="170"/><rect x="430.28" y="470" width="1.7" height="170"/><rect x="433.77" y="470" width="1.7" height="170"/><rect x="437.26" y="470" width="1.7" height="170"/><rect x="440.75" y="470" width="1.7" height="170"/><rect x="444.24" y="470" width="1.7" height="170"/><rect x="447.73" y="470" width="1.7" height="170"/><rect x="451.22" y="470" width="1.7" height="170"/><rect x="454.71" y="470" width="1.7" height="170"/><rect x="458.2" y="470" width="1.7" height="170"/><rect x="461.69" y="470" width="1.7" height="170"/><rect x="465.18" y="470" width="1.7" height="170"/><rect x="468.67" y="470" width="1.7" height="170"/><rect x="472.16" y="470" width="1.7" height="170"/><rect x="475.65" y="470" width="1.7" height="170"/><rect x="479.14" y="470" width="1.7" height="170"/><rect x="482.63" y="470" width="1.7" height="170"/><rect x="486.12" y="470" width="1.7" height="170"/><rect x="489.61" y="470" width="1.7" height="170"/><rect x="493.1" y="470" width="1.7" height="170"/><rect x="496.59" y="470" width="1.7" height="170"/><rect x="500.08" y="470" width="1.7" height="170"/><rect x="503.57" y="470" width="1.7" height="170"/><rect x="507.06" y="470" width="1.7" height="170"/><rect x="510.55" y="470" width="1.7" height="170"/><rect x="514.04" y="470" width="1.7" height="170"/><rect x="517.53" y="470" width="1.7" height="170"/><rect x="521.02" y="470" width="1.7" height="170"/><rect x="524.51" y="470" width="1.7" height="170"/><rect x="528" y="470" width="1.7" height="170"/><rect x="531.49" y="470" width="1.7" height="170"/><rect x="534.98" y="470" width="1.7" height="170"/><rect x="538.47" y="470" width="1.7" height="170"/><rect x="541.96" y="470" width="1.7" height="170"/><rect x="545.45" y="470" width="1.7" height="170"/><rect x="548.94" y="470" width="1.7" height="170"/><rect x="552.43" y="470" width="1.7" height="170"/><rect x="555.92" y="470" width="1.7" height="170"/><rect x="559.41" y="470" width="1.7" height="170"/><rect x="562.9" y="470" width="1.7" height="170"/><rect x="566.39" y="470" width="1.7" height="170"/><rect x="569.88" y="470" width="1.7" height="170"/><rect x="573.37" y="470" width="1.7" height="170"/><rect x="576.86" y="470" width="1.7" height="170"/><rect x="580.35" y="470" width="1.7" height="170"/><rect x="583.84" y="470" width="1.7" height="170"/><rect x="587.33" y="470" width="1.7" height="170"/><rect x="590.82" y="470" width="1.7" height="170"/><rect x="594.31" y="470" width="1.7" height="170"/></g>
<path d="M124 477.5 L591.1 477.5 L582.6 627 L569.9 627 L569.9 636.3 L137.2 636.3 L137.2 627 L124 627 Z" fill="none" stroke="#000" stroke-width="1.7"/>
<path d="M129.2 477.5 L182.7 580.4 Q191.8 597.8 202.2 597.8 L347.2 601.9 L366.5 602.1 L513.7 597.9 Q521 597.9 528.2 585.6 L584.8 477.5 Z" fill="none" stroke="#000" stroke-width="1.7"/>
<path d="M347.2 601.9 L349.9 606 L364.7 606 L366.5 602.1" fill="#fff" stroke="#000" stroke-width="1.7"/>
<line x1="342.8" y1="499.2" x2="372.4" y2="499.2" stroke="#000" stroke-width="3.6" stroke-linecap="round"/>
<line x1="388.8" y1="499.5" x2="441.9" y2="499.5" stroke="#2a2a2a" stroke-width="1.6" stroke-dasharray="4.8 3.5" stroke-dashoffset="0"/>
<line x1="388.8" y1="499.5" x2="418" y2="499.5" stroke="#2a2a2a" stroke-width="2.8" stroke-dasharray="4.8 3.5"/>
<line x1="406.8" y1="451.5" x2="406.8" y2="528.9" stroke="#2a2a2a" stroke-width="1.6" stroke-dasharray="4.8 3.5" stroke-dashoffset="0"/>
<path d="M406.8 497.6 L404.1 484.6 L409.5 484.6 Z" fill="#2a2a2a"/>
<path d="M406.8 500.8 L409.5 513.8 L404.1 513.8 Z" fill="#2a2a2a"/>
<line x1="429.8" y1="424.5" x2="429.8" y2="527" stroke="#2a2a2a" stroke-width="1.6" stroke-dasharray="4.8 3.5" stroke-dashoffset="0"/>
<path d="M429.8 477 L427.1 464 L432.5 464 Z" fill="#2a2a2a"/>
<path d="M429.8 500 L432.5 513 L427.1 513 Z" fill="#2a2a2a"/>
<line x1="279" y1="528.9" x2="406.8" y2="528.9" stroke="#2a2a2a" stroke-width="1.6" stroke-dasharray="4.8 3.5" stroke-dashoffset="0"/>
<path d="M341.1 528.9 L327.1 531.6 L327.1 526.2 Z" fill="#2a2a2a"/>
<path d="M374 528.9 L388 526.2 L388 531.6 Z" fill="#2a2a2a"/>
<line x1="341.1" y1="513.6" x2="341.1" y2="540.6" stroke="#2a2a2a" stroke-width="1.6" stroke-dasharray="4.8 3.5" stroke-dashoffset="0"/>
<line x1="374" y1="513.6" x2="374" y2="540.6" stroke="#2a2a2a" stroke-width="1.6" stroke-dasharray="4.8 3.5" stroke-dashoffset="0"/>
<text class="t" x="0" y="0" dy="6.4" transform="translate(296.39 519)" text-anchor="middle">120</text>
<text class="t" x="0" y="0" dy="6.4" transform="translate(396.92 459.33) rotate(-90)" text-anchor="middle">6</text>
<text class="t" x="0" y="0" dy="6.4" transform="translate(419.58 437.08) rotate(-90)" text-anchor="middle">80</text>
<line x1="260.6" y1="477.5" x2="260.6" y2="600" stroke="#2a2a2a" stroke-width="1.6" stroke-dasharray="4.8 3.5" stroke-dashoffset="0"/>
<path d="M260.6 477.5 L263.3 491.5 L257.9 491.5 Z" fill="#2a2a2a"/>
<path d="M260.6 600 L257.9 586 L263.3 586 Z" fill="#2a2a2a"/>
<text class="t" x="0" y="0" dy="6.4" transform="translate(251.42 538.1) rotate(-90)" text-anchor="middle">456</text>
<line x1="41.2" y1="477.4" x2="108.4" y2="477.4" stroke="#2a2a2a" stroke-width="1.6" stroke-dasharray="4.8 3.5" stroke-dashoffset="0"/>
<line x1="41.2" y1="636.5" x2="122.4" y2="636.5" stroke="#2a2a2a" stroke-width="1.6" stroke-dasharray="4.8 3.5" stroke-dashoffset="0"/>
<line x1="52.4" y1="477.4" x2="52.4" y2="636.5" stroke="#2a2a2a" stroke-width="1.6" stroke-dasharray="4.8 3.5" stroke-dashoffset="0"/>
<path d="M52.4 477.4 L55.1 491.4 L49.7 491.4 Z" fill="#2a2a2a"/>
<path d="M52.4 636.5 L49.7 622.5 L55.1 622.5 Z" fill="#2a2a2a"/>
<text class="t" x="0" y="0" dy="6.4" transform="translate(43.78 555.88) rotate(-90)" text-anchor="middle">580</text>
<line x1="76.2" y1="627" x2="122.4" y2="627" stroke="#2a2a2a" stroke-width="1.6" stroke-dasharray="4.8 3.5" stroke-dashoffset="0"/>
<line x1="88.7" y1="574.8" x2="88.7" y2="664.5" stroke="#2a2a2a" stroke-width="1.6" stroke-dasharray="4.8 3.5" stroke-dashoffset="0"/>
<path d="M88.7 627 L86 613 L91.4 613 Z" fill="#2a2a2a"/>
<path d="M88.7 636.5 L91.4 650.5 L86 650.5 Z" fill="#2a2a2a"/>
<text class="t" x="0" y="0" dy="6.4" transform="translate(77.94 586.91) rotate(-90)" text-anchor="middle">35</text>
<line x1="95" y1="665.7" x2="191" y2="665.7" stroke="#2a2a2a" stroke-width="1.6" stroke-dasharray="4.8 3.5" stroke-dashoffset="0"/>
<path d="M123.5 665.7 L109.5 668.4 L109.5 663 Z" fill="#2a2a2a"/>
<path d="M137.3 665.7 L151.3 663 L151.3 668.4 Z" fill="#2a2a2a"/>
<line x1="123.5" y1="643.2" x2="123.5" y2="731.2" stroke="#2a2a2a" stroke-width="1.6" stroke-dasharray="4.8 3.5" stroke-dashoffset="0"/>
<line x1="137.3" y1="643.2" x2="137.3" y2="695.2" stroke="#2a2a2a" stroke-width="1.6" stroke-dasharray="4.8 3.5" stroke-dashoffset="0"/>
<text class="t" x="0" y="0" dy="6.4" transform="translate(177.28 655.5)" text-anchor="middle">50</text>
<line x1="569.1" y1="652.9" x2="569.1" y2="695" stroke="#2a2a2a" stroke-width="1.6" stroke-dasharray="4.8 3.5" stroke-dashoffset="0"/>
<line x1="582" y1="642.7" x2="582" y2="731" stroke="#2a2a2a" stroke-width="1.6" stroke-dasharray="4.8 3.5" stroke-dashoffset="0"/>
<line x1="137.3" y1="683.4" x2="569.1" y2="683.4" stroke="#2a2a2a" stroke-width="1.6" stroke-dasharray="4.8 3.5" stroke-dashoffset="0"/>
<path d="M137.3 683.4 L151.3 680.7 L151.3 686.1 Z" fill="#2a2a2a"/>
<path d="M569.1 683.4 L555.1 686.1 L555.1 680.7 Z" fill="#2a2a2a"/>
<line x1="123.5" y1="719.6" x2="582" y2="719.6" stroke="#2a2a2a" stroke-width="1.6" stroke-dasharray="4.8 3.5" stroke-dashoffset="0"/>
<path d="M123.5 719.6 L137.5 716.9 L137.5 722.3 Z" fill="#2a2a2a"/>
<path d="M582 719.6 L568 722.3 L568 716.9 Z" fill="#2a2a2a"/>
<text class="t" x="0" y="0" dy="6.4" transform="translate(352.5 674.78)" text-anchor="middle">1570</text>
<text class="t" x="0" y="0" dy="6.4" transform="translate(352.5 710.78)" text-anchor="middle">1670</text>
<defs><clipPath id="cs"><path d="M670.3 477.5 L889.7 477.5 L889.7 626.8 L875.5 626.8 L875.5 636 L690.9 636 L690.9 626.8 L677.8 626.8 Z M675.6 477.5 L701.2 589 Q704 602.3 710.3 602.3 L850.3 601.8 Q855 601.8 857.2 593.6 L884.6 477.5 Z" fill-rule="evenodd" clip-rule="evenodd"/></clipPath></defs>
<g clip-path="url(#cs)" fill="#000"><rect x="660.85" y="470" width="1.7" height="170"/><rect x="664.35" y="470" width="1.7" height="170"/><rect x="667.85" y="470" width="1.7" height="170"/><rect x="671.35" y="470" width="1.7" height="170"/><rect x="674.85" y="470" width="1.7" height="170"/><rect x="678.35" y="470" width="1.7" height="170"/><rect x="681.85" y="470" width="1.7" height="170"/><rect x="685.35" y="470" width="1.7" height="170"/><rect x="688.85" y="470" width="1.7" height="170"/><rect x="692.35" y="470" width="1.7" height="170"/><rect x="695.85" y="470" width="1.7" height="170"/><rect x="699.35" y="470" width="1.7" height="170"/><rect x="702.85" y="470" width="1.7" height="170"/><rect x="706.35" y="470" width="1.7" height="170"/><rect x="709.85" y="470" width="1.7" height="170"/><rect x="713.35" y="470" width="1.7" height="170"/><rect x="716.85" y="470" width="1.7" height="170"/><rect x="720.35" y="470" width="1.7" height="170"/><rect x="723.85" y="470" width="1.7" height="170"/><rect x="727.35" y="470" width="1.7" height="170"/><rect x="730.85" y="470" width="1.7" height="170"/><rect x="734.35" y="470" width="1.7" height="170"/><rect x="737.85" y="470" width="1.7" height="170"/><rect x="741.35" y="470" width="1.7" height="170"/><rect x="744.85" y="470" width="1.7" height="170"/><rect x="748.35" y="470" width="1.7" height="170"/><rect x="751.85" y="470" width="1.7" height="170"/><rect x="755.35" y="470" width="1.7" height="170"/><rect x="758.85" y="470" width="1.7" height="170"/><rect x="762.35" y="470" width="1.7" height="170"/><rect x="765.85" y="470" width="1.7" height="170"/><rect x="769.35" y="470" width="1.7" height="170"/><rect x="772.85" y="470" width="1.7" height="170"/><rect x="776.35" y="470" width="1.7" height="170"/><rect x="779.85" y="470" width="1.7" height="170"/><rect x="783.35" y="470" width="1.7" height="170"/><rect x="786.85" y="470" width="1.7" height="170"/><rect x="790.35" y="470" width="1.7" height="170"/><rect x="793.85" y="470" width="1.7" height="170"/><rect x="797.35" y="470" width="1.7" height="170"/><rect x="800.85" y="470" width="1.7" height="170"/><rect x="804.35" y="470" width="1.7" height="170"/><rect x="807.85" y="470" width="1.7" height="170"/><rect x="811.35" y="470" width="1.7" height="170"/><rect x="814.85" y="470" width="1.7" height="170"/><rect x="818.35" y="470" width="1.7" height="170"/><rect x="821.85" y="470" width="1.7" height="170"/><rect x="825.35" y="470" width="1.7" height="170"/><rect x="828.85" y="470" width="1.7" height="170"/><rect x="832.35" y="470" width="1.7" height="170"/><rect x="835.85" y="470" width="1.7" height="170"/><rect x="839.35" y="470" width="1.7" height="170"/><rect x="842.85" y="470" width="1.7" height="170"/><rect x="846.35" y="470" width="1.7" height="170"/><rect x="849.85" y="470" width="1.7" height="170"/><rect x="853.35" y="470" width="1.7" height="170"/><rect x="856.85" y="470" width="1.7" height="170"/><rect x="860.35" y="470" width="1.7" height="170"/><rect x="863.85" y="470" width="1.7" height="170"/><rect x="867.35" y="470" width="1.7" height="170"/><rect x="870.85" y="470" width="1.7" height="170"/><rect x="874.35" y="470" width="1.7" height="170"/><rect x="877.85" y="470" width="1.7" height="170"/><rect x="881.35" y="470" width="1.7" height="170"/><rect x="884.85" y="470" width="1.7" height="170"/><rect x="888.35" y="470" width="1.7" height="170"/><rect x="891.85" y="470" width="1.7" height="170"/><rect x="895.35" y="470" width="1.7" height="170"/></g>
<path d="M670.3 477.5 L889.7 477.5 L889.7 626.8 L875.5 626.8 L875.5 636 L690.9 636 L690.9 626.8 L677.8 626.8 Z" fill="none" stroke="#000" stroke-width="1.7"/>
<path d="M675.6 477.5 L701.2 589 Q704 602.3 710.3 602.3 L850.3 601.8 Q855 601.8 857.2 593.6 L884.6 477.5 Z" fill="none" stroke="#000" stroke-width="1.7"/>
<line x1="889.3" y1="477.5" x2="889.3" y2="626.8" stroke="#000" stroke-width="3"/>
<line x1="670" y1="400" x2="670" y2="461.5" stroke="#2a2a2a" stroke-width="1.6" stroke-dasharray="4.8 3.5" stroke-dashoffset="0"/>
<line x1="890" y1="400.2" x2="890" y2="461" stroke="#2a2a2a" stroke-width="1.6" stroke-dasharray="4.8 3.5" stroke-dashoffset="0"/>
<line x1="670" y1="411.6" x2="890" y2="411.6" stroke="#2a2a2a" stroke-width="1.6" stroke-dasharray="4.8 3.5" stroke-dashoffset="0"/>
<path d="M670 411.6 L684 408.9 L684 414.3 Z" fill="#2a2a2a"/>
<path d="M890 411.6 L876 414.3 L876 408.9 Z" fill="#2a2a2a"/>
<text class="t" x="0" y="0" dy="6.4" transform="translate(780.48 401.58)" text-anchor="middle">800</text>
<line x1="884.8" y1="441" x2="884.8" y2="461" stroke="#2a2a2a" stroke-width="1.6" stroke-dasharray="4.8 3.5" stroke-dashoffset="0"/>
<line x1="832" y1="453.5" x2="918.4" y2="453.5" stroke="#2a2a2a" stroke-width="1.6" stroke-dasharray="4.8 3.5" stroke-dashoffset="0"/>
<path d="M884.8 453.5 L870.8 456.2 L870.8 450.8 Z" fill="#2a2a2a"/>
<path d="M890 453.5 L904 450.8 L904 456.2 Z" fill="#2a2a2a"/>
<text class="t" x="0" y="0" dy="6.4" transform="translate(845.09 444.34)" text-anchor="middle">20</text>
<line x1="905.4" y1="477.4" x2="959.8" y2="477.4" stroke="#2a2a2a" stroke-width="1.6" stroke-dasharray="4.8 3.5" stroke-dashoffset="0"/>
<line x1="897" y1="636.1" x2="959.8" y2="636.1" stroke="#2a2a2a" stroke-width="1.6" stroke-dasharray="4.8 3.5" stroke-dashoffset="0"/>
<line x1="948.5" y1="477.4" x2="948.5" y2="636.1" stroke="#2a2a2a" stroke-width="1.6" stroke-dasharray="4.8 3.5" stroke-dashoffset="0"/>
<path d="M948.5 477.4 L951.2 491.4 L945.8 491.4 Z" fill="#2a2a2a"/>
<path d="M948.5 636.1 L945.8 622.1 L951.2 622.1 Z" fill="#2a2a2a"/>
<text class="t" x="0" y="0" dy="6.4" transform="translate(938.64 557.22) rotate(-90)" text-anchor="middle">580</text>
<line x1="691.2" y1="639.2" x2="691.2" y2="686.3" stroke="#2a2a2a" stroke-width="1.6" stroke-dasharray="4.8 3.5" stroke-dashoffset="0"/>
<line x1="875.8" y1="639.2" x2="875.8" y2="686.3" stroke="#2a2a2a" stroke-width="1.6" stroke-dasharray="4.8 3.5" stroke-dashoffset="0"/>
<line x1="691.2" y1="674.8" x2="875.8" y2="674.8" stroke="#2a2a2a" stroke-width="1.6" stroke-dasharray="4.8 3.5" stroke-dashoffset="0"/>
<path d="M691.2 674.8 L705.2 672.1 L705.2 677.5 Z" fill="#2a2a2a"/>
<path d="M875.8 674.8 L861.8 677.5 L861.8 672.1 Z" fill="#2a2a2a"/>
<text class="t" x="0" y="0" dy="6.4" transform="translate(783.95 665.14)" text-anchor="middle">670</text>
<line x1="678" y1="642.6" x2="678" y2="739.2" stroke="#2a2a2a" stroke-width="1.6" stroke-dasharray="4.8 3.5" stroke-dashoffset="0"/>
<line x1="890.1" y1="644" x2="890.1" y2="739.2" stroke="#2a2a2a" stroke-width="1.6" stroke-dasharray="4.8 3.5" stroke-dashoffset="0"/>
<line x1="678" y1="727.7" x2="890.1" y2="727.7" stroke="#2a2a2a" stroke-width="1.6" stroke-dasharray="4.8 3.5" stroke-dashoffset="0"/>
<path d="M678 727.7 L692 725 L692 730.4 Z" fill="#2a2a2a"/>
<path d="M890.1 727.7 L876.1 730.4 L876.1 725 Z" fill="#2a2a2a"/>
<text class="t" x="0" y="0" dy="6.4" transform="translate(783.5 717.42)" text-anchor="middle">770</text>
</svg></body></html>
